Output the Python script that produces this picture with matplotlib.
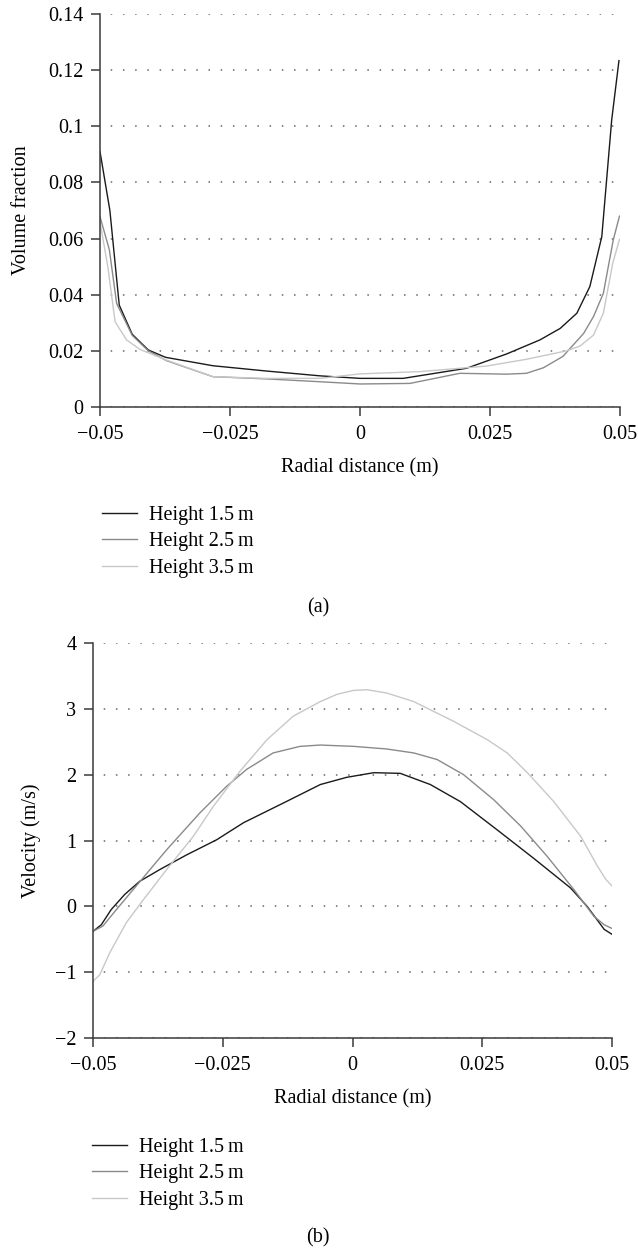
import numpy as np
import matplotlib
matplotlib.use("Agg")
import matplotlib.pyplot as plt

plt.rcParams['font.family'] = ['Liberation Serif', 'DejaVu Serif']
FS = 14.5
plt.rcParams['font.size'] = FS

# (a) volume fraction vs radial distance
vf_x_15 = [-0.05, -0.0481, -0.0463, -0.0438, -0.0407, -0.0374, -0.0283, -0.0179, -0.0077,
           0.0, 0.0083, 0.0205, 0.0282, 0.0346, 0.0385, 0.0417, 0.0442, 0.0465, 0.0484, 0.0498]
vf_y_15 = [0.091, 0.0700, 0.0363, 0.0259, 0.0203, 0.0177, 0.0147, 0.0128, 0.0111,
           0.0102, 0.0102, 0.0138, 0.0189, 0.0239, 0.0280, 0.0334, 0.0429, 0.0607, 0.1022, 0.1234]

vf_x_25 = [-0.05, -0.0482, -0.0468, -0.0438, -0.0407, -0.0372, -0.0283, -0.0179, -0.0077,
           0.0, 0.0096, 0.0192, 0.0282, 0.0320, 0.0353, 0.0390, 0.0430, 0.0449, 0.0468, 0.0487, 0.0499]
vf_y_25 = [0.0678, 0.0560, 0.0369, 0.0255, 0.0200, 0.0165, 0.0108, 0.0100, 0.0090,
           0.0082, 0.0084, 0.0120, 0.0117, 0.0120, 0.0140, 0.0180, 0.0262, 0.0322, 0.0405, 0.0595, 0.0680]

vf_x_35 = [-0.05, -0.0485, -0.0471, -0.0449, -0.0423, -0.0372, -0.0283, -0.0179, -0.0077,
           0.0, 0.0115, 0.0244, 0.0320, 0.0397, 0.0423, 0.0449, 0.0468, 0.0486, 0.0499]
vf_y_35 = [0.0660, 0.0500, 0.0304, 0.0239, 0.0205, 0.0167, 0.0108, 0.0102, 0.0102,
           0.0118, 0.0126, 0.0146, 0.0170, 0.0200, 0.0217, 0.0256, 0.0334, 0.0512, 0.0597]

# (b) velocity vs radial distance
v_x_15 = [-0.05, -0.0484, -0.0465, -0.0439, -0.041, -0.0371, -0.032, -0.0262, -0.021, -0.0133,
          -0.0062, -0.0011, 0.0041, 0.0092, 0.015, 0.0208, 0.0279, 0.0349, 0.042, 0.0452, 0.0485, 0.0501]
v_y_15 = [-0.38, -0.28, -0.05, 0.18, 0.38, 0.56, 0.78, 1.01, 1.27, 1.57,
          1.85, 1.96, 2.03, 2.02, 1.85, 1.59, 1.16, 0.73, 0.28, 0.0, -0.35, -0.43]

v_x_25 = [-0.05, -0.0481, -0.0455, -0.0423, -0.0358, -0.0294, -0.0243, -0.0204, -0.0153, -0.0101,
          -0.0062, 0.0002, 0.0066, 0.0118, 0.0163, 0.0214, 0.0272, 0.0324, 0.0375, 0.0427, 0.0465, 0.0485, 0.0501]
v_y_25 = [-0.38, -0.30, -0.05, 0.25, 0.86, 1.42, 1.82, 2.08, 2.33, 2.43,
          2.45, 2.43, 2.39, 2.33, 2.23, 2.00, 1.62, 1.22, 0.76, 0.25, -0.15, -0.28, -0.34]

v_x_35 = [-0.05, -0.0487, -0.0468, -0.0436, -0.0403, -0.0358, -0.0307, -0.0268, -0.0217, -0.0165, -0.0114,
          -0.0062, -0.003, 0.0002, 0.0028, 0.0066, 0.0118, 0.0195, 0.026, 0.0298, 0.0337, 0.0388, 0.044,
          0.0472, 0.0488, 0.0501]
v_y_35 = [-1.14, -1.04, -0.71, -0.25, 0.10, 0.56, 1.06, 1.52, 2.05, 2.53, 2.89,
          3.11, 3.22, 3.28, 3.29, 3.24, 3.11, 2.81, 2.53, 2.33, 2.03, 1.59, 1.06,
          0.61, 0.41, 0.30]

labels = ['Height 1.5\u2009m', 'Height 2.5\u2009m', 'Height 3.5\u2009m']
colors = ['#1a1a1a', '#8a8a8a', '#c8c8c8']

x_ticks = [-0.05, -0.025, 0, 0.025, 0.05]
x_ticklabels = ['\u22120.05', '\u22120.025', '0', '0.025', '0.05']
vf_ticks = [0, 0.02, 0.04, 0.06, 0.08, 0.1, 0.12, 0.14]
vf_ticklabels = ['0', '0.02', '0.04', '0.06', '0.08', '0.1', '0.12', '0.14']
v_ticks = [-2, -1, 0, 1, 2, 3, 4]
v_ticklabels = ['\u22122', '\u22121', '0', '1', '2', '3', '4']

W, H = 638, 1249
fig = plt.figure(figsize=(W / 100, H / 100), dpi=100)

def px_rect(left, top, right, bottom):
    return [left / W, 1 - bottom / H, (right - left) / W, (bottom - top) / H]

def style_axes(ax):
    for s in ['top', 'right']:
        ax.spines[s].set_visible(False)
    for s in ['left', 'bottom']:
        ax.spines[s].set_color('#3a3a3a')
        ax.spines[s].set_linewidth(1.1)
    ax.tick_params(direction='out', length=6.5, width=1.1, color='#3a3a3a',
                   labelsize=FS)
    ax.tick_params(axis='x', pad=6.5)
    ax.tick_params(axis='y', pad=5.5)
    ax.yaxis.grid(True, color='#666666', linewidth=1.1, linestyle=(1, (1, 7.0)))
    ax.set_axisbelow(True)

def add_legend(lines, left_px, top_px):
    fig.legend(lines, labels, loc='upper left',
               bbox_to_anchor=(left_px / W, 1 - top_px / H),
               frameon=False, borderpad=0, borderaxespad=0,
               handlelength=1.75, handletextpad=0.6, labelspacing=0.36,
               fontsize=FS)

# panel (a)
ax1 = fig.add_axes(px_rect(100, 14, 620, 407))
l1 = ax1.plot(vf_x_15, vf_y_15, color=colors[0], lw=1.0)[0]
l2 = ax1.plot(vf_x_25, vf_y_25, color=colors[1], lw=1.0)[0]
l3 = ax1.plot(vf_x_35, vf_y_35, color=colors[2], lw=1.0)[0]
ax1.set_xlim(-0.05, 0.05)
ax1.set_ylim(0, 0.14)
ax1.set_xticks(x_ticks)
ax1.set_xticklabels(x_ticklabels)
ax1.set_yticks(vf_ticks)
ax1.set_yticklabels(vf_ticklabels)
style_axes(ax1)
ax1.set_xlabel('Radial distance (m)', fontsize=FS, labelpad=10)
ax1.set_ylabel('Volume fraction', fontsize=FS, labelpad=12)
add_legend([l1, l2, l3], 102, 506)
fig.text(318 / W, 1 - 608 / H, '(a)', ha='center', va='center', fontsize=FS)

# panel (b)
ax2 = fig.add_axes(px_rect(93, 643, 612, 1038))
m1 = ax2.plot(v_x_15, v_y_15, color=colors[0], lw=1.0)[0]
m2 = ax2.plot(v_x_25, v_y_25, color=colors[1], lw=1.0)[0]
m3 = ax2.plot(v_x_35, v_y_35, color=colors[2], lw=1.0)[0]
ax2.set_xlim(-0.05, 0.05)
ax2.set_ylim(-2, 4)
ax2.set_xticks(x_ticks)
ax2.set_xticklabels(x_ticklabels)
ax2.set_yticks(v_ticks)
ax2.set_yticklabels(v_ticklabels)
style_axes(ax2)
ax2.set_xlabel('Radial distance (m)', fontsize=FS, labelpad=10)
ax2.set_ylabel('Velocity (m/s)', fontsize=FS, labelpad=10)
add_legend([m1, m2, m3], 92, 1138)
fig.text(318 / W, 1 - 1238 / H, '(b)', ha='center', va='center', fontsize=FS)

fig.savefig('out.png', dpi=100)
